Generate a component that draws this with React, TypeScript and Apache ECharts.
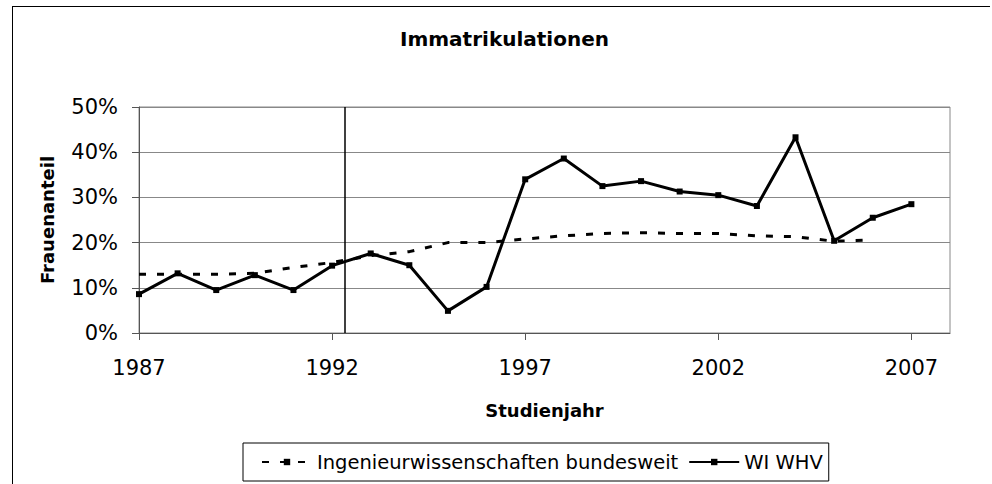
import React, { useEffect, useRef } from "react";
import * as echarts from "echarts";

const years = [1987, 1988, 1989, 1990, 1991, 1992, 1993, 1994, 1995, 1996, 1997, 1998, 1999, 2000, 2001, 2002, 2003, 2004, 2005, 2006, 2007];
const wiWhv = [8.6, 13.2, 9.5, 12.8, 9.5, 14.9, 17.6, 15.0, 4.9, 10.2, 34.0, 38.6, 32.5, 33.6, 31.3, 30.5, 28.1, 43.3, 20.4, 25.5, 28.5];
const ingBundesweit = [13.0, 13.0, 13.0, 13.2, 14.5, 15.6, 17.1, 18.0, 20.0, 20.0, 20.8, 21.5, 22.0, 22.2, 22.0, 22.0, 21.5, 21.3, 20.3, 20.6, null];
const xTickYears = [1987, 1992, 1997, 2002, 2007];
const markerYear = 1992.33;
const seriesNames = ["Ingenieurwissenschaften bundesweit", "WI WHV"];

const FONT = "'DejaVu Sans', sans-serif";

export default function App() {
  const ref = useRef<HTMLDivElement>(null);
  useEffect(() => {
    if (!ref.current) return;
    const chart = echarts.init(ref.current, null, { renderer: "svg" });
    const pairs = (vals: (number | null)[]) => years.map((y, i) => [y, vals[i]]).filter((p) => p[1] != null);
    chart.setOption({
      animation: false,
      backgroundColor: "#fff",
      title: {
        text: "Immatrikulationen",
        left: 400,
        top: 29,
        padding: 0,
        textStyle: { fontFamily: FONT, fontSize: 20, fontWeight: "bold", color: "#000" },
      },
      graphic: [
        { type: "line", shape: { x1: 12, y1: 6.5, x2: 990, y2: 6.5 }, style: { stroke: "#000", lineWidth: 1 } },
        { type: "line", shape: { x1: 12.5, y1: 6, x2: 12.5, y2: 484 }, style: { stroke: "#000", lineWidth: 1 } },
      ],
      grid: { left: 139, right: 42, top: 107, bottom: 151, show: true, borderColor: "#888", borderWidth: 1 },
      legend: {
        left: 243,
        top: 443,
        padding: [9, 6, 9, 18],
        itemWidth: 50,
        itemHeight: 8,
        itemGap: 10,
        borderColor: "#000",
        borderWidth: 1,
        data: seriesNames,
        textStyle: { fontFamily: FONT, fontSize: 19.5, color: "#000" },
      },
      xAxis: {
        type: "value",
        min: 1987,
        max: 2008,
        name: "Studienjahr",
        nameLocation: "middle",
        nameGap: 68,
        nameTextStyle: { fontFamily: FONT, fontSize: 18, fontWeight: "bold", color: "#000" },
        axisLine: { show: true, lineStyle: { color: "#555", width: 1 } },
        axisTick: { show: true, length: 7, customValues: xTickYears, lineStyle: { color: "#555" } },
        axisLabel: {
          customValues: xTickYears,
          formatter: (v: number) => String(v),
          margin: 24,
          fontFamily: FONT,
          fontSize: 21,
          color: "#000",
        },
        splitLine: { show: false },
      },
      yAxis: {
        type: "value",
        min: 0,
        max: 50,
        interval: 10,
        name: "Frauenanteil",
        nameLocation: "middle",
        nameGap: 83,
        nameTextStyle: { fontFamily: FONT, fontSize: 18, fontWeight: "bold", color: "#000" },
        axisLine: { show: true, lineStyle: { color: "#555", width: 1 } },
        axisTick: { show: true, length: 7, lineStyle: { color: "#555" } },
        axisLabel: { formatter: "{value}%", margin: 21, fontFamily: FONT, fontSize: 21, color: "#000" },
        splitLine: { show: true, lineStyle: { color: "#888", width: 1 } },
      },
      series: [
        {
          name: seriesNames[0],
          type: "line",
          data: pairs(ingBundesweit),
          symbol: "rect",
          symbolSize: 4,
          showSymbol: false,
          lineStyle: { color: "#000", width: 3, type: [7, 11] },
          itemStyle: { color: "#000" },
          z: 2,
        },
        {
          name: seriesNames[1],
          type: "line",
          data: pairs(wiWhv),
          symbol: "rect",
          symbolSize: 6,
          lineStyle: { color: "#000", width: 3 },
          itemStyle: { color: "#000" },
          z: 3,
          markLine: {
            silent: true,
            symbol: ["none", "none"],
            label: { show: false },
            lineStyle: { color: "#000", width: 1.5, type: "solid" },
            data: [{ xAxis: markerYear }],
          },
        },
      ],
    });
    return () => chart.dispose();
  }, []);
  return <div ref={ref} style={{ position: "fixed", left: 0, top: 0, width: 992, height: 484 }} />;
}
